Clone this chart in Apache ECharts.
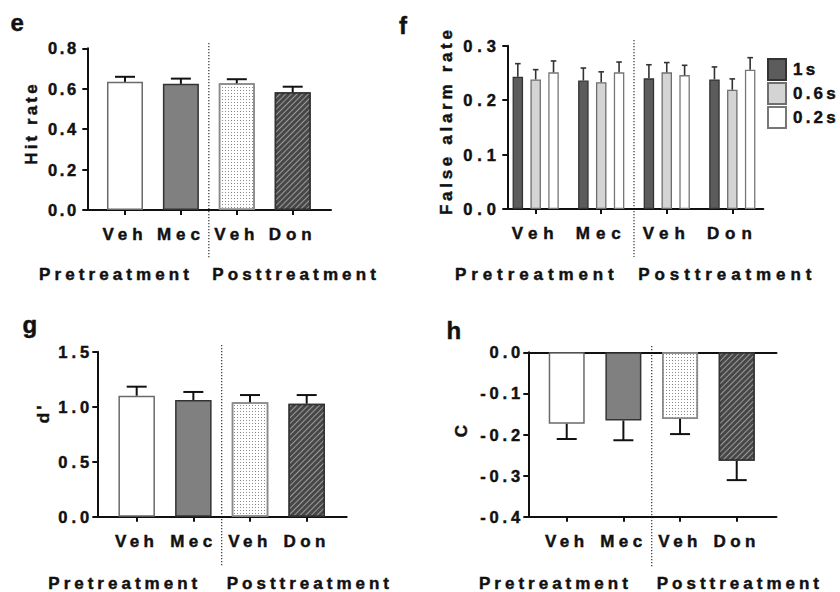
<!DOCTYPE html>
<html>
<head>
<meta charset="utf-8">
<title>Signal detection measures</title>
<script src="https://cdn.jsdelivr.net/npm/echarts@6/dist/echarts.min.js"></script>
<style>
  html, body { margin: 0; padding: 0; background: #ffffff; }
  #wrap { position: relative; width: 840px; height: 592px; overflow: hidden; }
  .panel { position: absolute; left: 0; top: 0; width: 840px; height: 592px; }
</style>
</head>
<body>
<div id="wrap">
  <div id="panelE" class="panel"></div>
  <div id="panelF" class="panel"></div>
  <div id="panelG" class="panel"></div>
  <div id="panelH" class="panel"></div>
</div>
<script>
// ---- data -------------------------------------------------------------
const drugGroups = ['Veh', 'Mec', 'Veh', 'Don'];
const phaseLabels = ['Pretreatment', 'Posttreatment'];
const durations = ['1s', '0.6s', '0.2s'];

const hitRate = [0.634, 0.624, 0.627, 0.582];
const hitRateSem = [0.025, 0.026, 0.020, 0.028];

const falseAlarm1s = [0.243, 0.236, 0.240, 0.238];
const falseAlarm1sSem = [0.024, 0.023, 0.025, 0.023];
const falseAlarm06s = [0.238, 0.233, 0.251, 0.219];
const falseAlarm06sSem = [0.018, 0.019, 0.018, 0.020];
const falseAlarm02s = [0.251, 0.251, 0.246, 0.256];
const falseAlarm02sSem = [0.021, 0.019, 0.018, 0.022];

const dPrime = [1.100, 1.061, 1.040, 1.027];
const dPrimeSem = [0.082, 0.073, 0.066, 0.079];

const criterionC = [-0.174, -0.166, -0.162, -0.264];
const criterionCSem = [0.037, 0.048, 0.037, 0.047];

const hitRateTicks = [0, 0.8, 0.2];
const falseAlarmTicks = [0, 0.3, 0.1];
const dPrimeTicks = [0, 1.5, 0.5];
const criterionTicks = [-0.4, 0, 0.1];

// ---- styles -----------------------------------------------------------
const FONT = "'Liberation Sans', Arial, sans-serif";
const INK = '#111111';
const TICK_SIZE = 16.5;
const CAT_SIZE = 17;

const dotDecal = {
  symbol: 'rect', symbolSize: 1, color: '#8c8c8c',
  dashArrayX: [1, 2], dashArrayY: [1, 2], rotation: 0
};
const hatchDecal = {
  symbol: 'rect', symbolSize: 1, color: '#9a9a9a',
  dashArrayX: [1, 0], dashArrayY: [1, 2.2], rotation: -Math.PI / 4
};

const treatmentStyles = [
  { color: '#ffffff', borderColor: '#6a6a6a', borderWidth: 1.5 },
  { color: '#808080', borderColor: '#333333', borderWidth: 1.5 },
  { color: '#ffffff', borderColor: '#8a8a8a', borderWidth: 1.5, decal: dotDecal },
  { color: '#474747', borderColor: '#333333', borderWidth: 1.5, decal: hatchDecal }
];

const durationStyles = [
  { color: '#5c5c5c', borderColor: '#333333', borderWidth: 1.3 },
  { color: '#d4d4d4', borderColor: '#6e6e6e', borderWidth: 1.3 },
  { color: '#ffffff', borderColor: '#777777', borderWidth: 1.3 }
];

function font(size) {
  return 'bold ' + size + 'px ' + FONT;
}

function textStyle(size) {
  return { fontFamily: FONT, fontWeight: 'bold', fontSize: size, color: INK };
}

function xAxisFor(range, extra) {
  const idx = drugGroups.map((_, i) => i);
  return Object.assign({
    type: 'value', min: range[0], max: range[1],
    axisLine: { show: true, onZero: false, lineStyle: { color: INK, width: 2 } },
    axisTick: { show: true, customValues: idx, length: 5, lineStyle: { color: INK, width: 2 } },
    axisLabel: Object.assign({
      show: true, customValues: idx, margin: 16,
      formatter: v => drugGroups[Math.round(v)]
    }, textStyle(CAT_SIZE)),
    splitLine: { show: false }
  }, extra || {});
}

function yAxisFor(ticks, margin) {
  return {
    type: 'value', min: ticks[0], max: ticks[1], interval: ticks[2],
    axisLine: { show: true, onZero: false, lineStyle: { color: INK, width: 2 } },
    axisTick: { show: true, length: 5, lineStyle: { color: INK, width: 2 } },
    axisLabel: Object.assign({
      margin: margin,
      formatter: v => (Math.abs(v) < 1e-9 ? 0 : v).toFixed(1)
    }, textStyle(TICK_SIZE)),
    splitLine: { show: false }
  };
}

function errorBars(means, sems, opts) {
  return {
    type: 'custom', silent: true, z: 3,
    data: means.map((m, i) => [i, m, m + (m < 0 ? -sems[i] : sems[i])]),
    encode: { x: 0, y: [1, 2] },
    renderItem(params, api) {
      const base = api.coord([api.value(0), api.value(1)]);
      const tip = api.coord([api.value(0), api.value(2)]);
      const x = base[0] + opts.offset;
      const style = { stroke: opts.color, lineWidth: opts.width };
      return {
        type: 'group',
        children: [
          { type: 'line', shape: { x1: x, y1: base[1], x2: x, y2: tip[1] }, style },
          { type: 'line', shape: { x1: x - opts.cap, y1: tip[1], x2: x + opts.cap, y2: tip[1] }, style }
        ]
      };
    }
  };
}

function treatmentBars(values, barWidth) {
  return {
    type: 'bar', barWidth: barWidth, z: 2,
    data: values.map((v, i) => ({ value: [i, v], itemStyle: treatmentStyles[i] }))
  };
}

function label(text, x, y, size, align, rotation) {
  return {
    type: 'text', x: x, y: y, rotation: rotation || 0, silent: true,
    style: {
      text: text, font: font(size), fill: INK,
      textAlign: align || 'left', verticalAlign: 'middle', textVerticalAlign: 'middle'
    }
  };
}

function phaseText(preX, postX, y, size) {
  return [label(phaseLabels[0], preX, y, size), label(phaseLabels[1], postX, y, size)];
}

// Prism-style wide tracking and heavy strokes, applied to the rendered SVG text nodes.
function applyTracking(chart, tracking) {
  chart.getDom().querySelectorAll('text').forEach(node => {
    const s = node.textContent.trim();
    let ls = tracking.name;
    if (/^-?\d+(\.\d+)?$/.test(s)) ls = tracking.tick;
    else if (drugGroups.includes(s)) ls = tracking.category;
    else if (phaseLabels.includes(s)) ls = tracking.phase;
    else if (durations.includes(s)) ls = tracking.legend;
    else if (s.length === 1) ls = 0;
    node.style.letterSpacing = ls + 'px';
    node.style.stroke = INK;
    node.style.strokeWidth = '0.45px';
  });
}

function build(domId, option, divider, tracking) {
  const chart = echarts.init(document.getElementById(domId), null, { renderer: 'svg', width: 840, height: 592 });
  chart.setOption(option);
  // dotted separator between pre- and post-treatment groups
  const xs = chart.convertToPixel({ xAxisIndex: 0 }, 1.5);
  chart.setOption({
    graphic: option.graphic.concat([{
      id: 'divider', type: 'line', silent: true,
      shape: { x1: xs, y1: divider[0], x2: xs, y2: divider[1] },
      style: { stroke: '#333333', lineWidth: 1.2, lineDash: [1.2, 1.8] }
    }])
  });
  chart.on('finished', () => applyTracking(chart, tracking));
  applyTracking(chart, tracking);
  return chart;
}

// ---- e: hit rate ---------------------------------------------------------
build('panelE', {
  animation: false,
  grid: { left: 87.3, top: 48.3, width: 243.7, height: 161.7, outerBoundsMode: 'none' },
  xAxis: xAxisFor([-0.674, 3.685]),
  yAxis: yAxisFor(hitRateTicks, 8.3),
  series: [
    treatmentBars(hitRate, 36),
    errorBars(hitRate, hitRateSem, { offset: 0, cap: 10, color: INK, width: 2 })
  ],
  graphic: [
    label('e', 10.5, 22.4, 24),
    label('Hit rate', 31, 123, 17, 'center', Math.PI / 2)
  ].concat(phaseText(39, 212.3, 274.8, 17))
}, [43, 258], { tick: 2.7, category: 4.9, phase: 4.1, name: 3.1, legend: 3.5 });

// ---- f: false alarm rate by stimulus duration --------------------------------
const falseAlarmSets = [falseAlarm1s, falseAlarm06s, falseAlarm02s];
const falseAlarmSems = [falseAlarm1sSem, falseAlarm06sSem, falseAlarm02sSem];
const fBarWidth = 10.5;
const fBarGap = 0.7;
build('panelF', {
  animation: false,
  grid: { left: 507.3, top: 45.7, width: 256, height: 163.3, outerBoundsMode: 'none' },
  legend: {
    data: durations, orient: 'vertical', left: 762, top: 53,
    itemWidth: 18, itemHeight: 21, itemGap: 1, icon: 'rect', selectedMode: false,
    textStyle: Object.assign({ padding: [6, 0, 0, 2] }, textStyle(17))
  },
  xAxis: xAxisFor([-0.433, 3.473]),
  yAxis: yAxisFor(falseAlarmTicks, 6.4),
  series: durations.map((name, k) => ({
    name: name, type: 'bar', barWidth: fBarWidth, barGap: (fBarGap * 100) + '%', z: 2,
    itemStyle: durationStyles[k],
    data: falseAlarmSets[k].map((v, i) => [i, v])
  })).concat(durations.map((name, k) => errorBars(falseAlarmSets[k], falseAlarmSems[k], {
    offset: (k - 1) * fBarWidth * (1 + fBarGap), cap: 2.8, color: '#333333', width: 1.6
  }))),
  graphic: [
    label('f', 399, 25, 24),
    label('False alarm rate', 446, 120.7, 17, 'center', Math.PI / 2)
  ].concat(phaseText(455, 638.3, 274.5, 17))
}, [40, 257], { tick: 4.9, category: 5.9, phase: 4.9, name: 3.7, legend: 3.2 });

// ---- g: sensitivity d' ---------------------------------------------------
build('panelG', {
  animation: false,
  grid: { left: 97.3, top: 351.7, width: 249.4, height: 165, outerBoundsMode: 'none' },
  xAxis: xAxisFor([-0.695, 3.706]),
  yAxis: yAxisFor(dPrimeTicks, 4),
  series: [
    treatmentBars(dPrime, 36.5),
    errorBars(dPrime, dPrimeSem, { offset: 0, cap: 10, color: INK, width: 2 })
  ],
  graphic: [
    label('g', 22.5, 324.2, 24),
    label("d'", 43, 413, 17, 'center', Math.PI / 2)
  ].concat(phaseText(48.3, 226.7, 583, 17))
}, [345, 567], { tick: 4, category: 4.4, phase: 4.0, name: 3.1, legend: 3.5 });

// ---- h: response criterion C --------------------------------------------
build('panelH', {
  animation: false,
  grid: { left: 528.3, top: 352.3, width: 248.2, height: 164.4, outerBoundsMode: 'none' },
  xAxis: [
    xAxisFor([-0.678, 3.702]),
    {
      type: 'value', position: 'top', min: -0.678, max: 3.702,
      axisLine: { show: true, onZero: false, lineStyle: { color: INK, width: 2 } },
      axisTick: { show: false }, axisLabel: { show: false }, splitLine: { show: false }
    }
  ],
  yAxis: yAxisFor(criterionTicks, 4.1),
  series: [
    treatmentBars(criterionC, 36),
    errorBars(criterionC, criterionCSem, { offset: 0, cap: 10, color: INK, width: 2 })
  ],
  graphic: [
    label('h', 446.6, 330.7, 24),
    label('C', 461.7, 431, 17, 'center', Math.PI / 2)
  ].concat(phaseText(479, 656.7, 583.8, 17))
}, [346, 567], { tick: 3.9, category: 4.4, phase: 4.0, name: 3.1, legend: 3.5 });
</script>
</body>
</html>
